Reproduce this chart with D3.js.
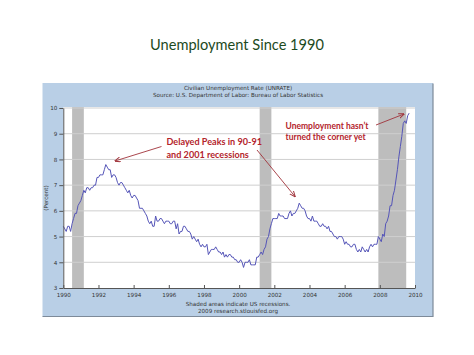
<!DOCTYPE html>
<html><head><meta charset="utf-8">
<script src="https://cdn.jsdelivr.net/npm/d3@7"></script>
<style>
html,body{margin:0;padding:0;background:#fff;}
svg{display:block;}
</style></head>
<body>
<svg id="c" width="474" height="355"></svg>
<script>
// ---- data (monthly, Jan 1990 - Sep 2009) ----
const startYear = 1990;
const unrate = [
 5.4,5.3,5.2,5.4,5.4,5.2,5.5,5.7,5.9,5.9,6.2,6.3,
 6.4,6.6,6.8,6.7,6.9,6.9,6.8,6.9,6.9,7.0,7.0,7.3,
 7.3,7.4,7.4,7.4,7.6,7.8,7.7,7.6,7.6,7.3,7.4,7.4,
 7.3,7.1,7.0,7.1,7.1,7.0,6.9,6.8,6.7,6.8,6.6,6.5,
 6.6,6.6,6.5,6.4,6.1,6.1,6.1,6.0,5.9,5.8,5.6,5.5,
 5.6,5.4,5.4,5.8,5.6,5.6,5.7,5.7,5.6,5.5,5.6,5.6,
 5.6,5.5,5.5,5.6,5.6,5.3,5.5,5.1,5.2,5.2,5.4,5.4,
 5.3,5.2,5.2,5.1,4.9,5.0,4.9,4.8,4.9,4.7,4.6,4.7,
 4.6,4.6,4.7,4.3,4.4,4.5,4.5,4.5,4.6,4.5,4.4,4.4,
 4.3,4.4,4.2,4.3,4.2,4.3,4.3,4.2,4.2,4.1,4.1,4.0,
 4.0,4.1,4.0,3.8,4.0,4.0,4.0,4.1,3.9,3.9,3.9,3.9,
 4.2,4.2,4.3,4.4,4.3,4.5,4.6,4.9,5.0,5.3,5.5,5.7,
 5.7,5.7,5.7,5.9,5.8,5.8,5.8,5.7,5.7,5.7,5.9,6.0,
 5.8,5.9,5.9,6.0,6.1,6.3,6.2,6.1,6.1,6.0,5.8,5.7,
 5.7,5.6,5.8,5.6,5.6,5.6,5.5,5.4,5.4,5.5,5.4,5.4,
 5.3,5.4,5.2,5.2,5.1,5.0,5.0,4.9,5.0,5.0,5.0,4.9,
 4.7,4.8,4.7,4.7,4.6,4.6,4.7,4.7,4.5,4.4,4.5,4.4,
 4.6,4.5,4.4,4.5,4.4,4.6,4.7,4.6,4.7,4.7,4.7,5.0,
 4.9,4.8,5.1,5.0,5.5,5.6,5.8,6.2,6.2,6.6,6.8,7.2,
 7.6,8.1,8.5,8.9,9.4,9.5,9.4,9.7,9.8
];
const recessionStart = [1990.5, 2001.167, 2007.917];
const recessionEnd   = [1991.167, 2001.833, 2009.5];
const xTicks = [1990,1992,1994,1996,1998,2000,2002,2004,2006,2008,2010];
const yTicks = [3,4,5,6,7,8,9,10];
const titleText = "Unemployment Since 1990";
const chartTitle = ["Civilian Unemployment Rate (UNRATE)", "Source: U.S. Department of Labor: Bureau of Labor Statistics"];
const footer = ["Shaded areas indicate US recessions.", "2009 research.stlouisfed.org"];
const note1 = ["Delayed Peaks in 90-91", "and 2001 recessions"];
const note2 = ["Unemployment hasn\u2019t", "turned the corner yet"];

const svg = d3.select("#c");
const L = 63.3, R = 415, T = 108, B = 288;
const x = d3.scaleLinear().domain([1990, 2010]).range([L, R]);
const y = d3.scaleLinear().domain([3, 10]).range([B, T]);

// slide title
svg.append("text").attr("x", 237).attr("y", 49.5).attr("text-anchor","middle")
  .attr("font-family","Lato, 'Open Sans', sans-serif").attr("font-size", 14.6)
  .attr("fill","#1d4a1d").text(titleText);

// panel
svg.append("rect").attr("x",42.5).attr("y",83).attr("width",390.5).attr("height",233.5)
  .attr("fill","#b9cfe6");
svg.append("path").attr("d","M433,83.5V316.5H42.5").attr("fill","none").attr("stroke","#7d8a99").attr("stroke-width",1.2);

// plot bg
svg.append("rect").attr("x",L).attr("y",T-1).attr("width",R-L).attr("height",B-T+1).attr("fill","#fff");

// recessions
svg.selectAll("rect.rec").data(recessionStart).join("rect").attr("class","rec")
  .attr("x", (d)=>x(d)).attr("width",(d,i)=>x(recessionEnd[i])-x(d))
  .attr("y",T-1).attr("height",B-T+1).attr("fill","#bdbdbd");

// grid
svg.selectAll("line.grid").data(yTicks.filter(v=>v>3)).join("line").attr("class","grid")
  .attr("x1",L).attr("x2",R).attr("y1",d=>y(d)).attr("y2",d=>y(d))
  .attr("stroke","#cfcfcf").attr("stroke-width",1);

// line
const pts = unrate.map((v,i)=>[startYear + i/12, v]);
svg.append("path").datum(pts)
  .attr("d", d3.line().x(d=>x(d[0])).y(d=>y(d[1])))
  .attr("fill","none").attr("stroke","#5555b8").attr("stroke-width",1);

// axes
const fontAxis = "'DejaVu Sans', Verdana, sans-serif";
const gx = svg.append("g").attr("transform",`translate(0,${B})`)
  .call(d3.axisBottom(x).tickValues(xTicks).tickFormat(d3.format("d")).tickSizeInner(-3).tickSizeOuter(0).tickPadding(5));
const gy = svg.append("g").attr("transform",`translate(${L},0)`)
  .call(d3.axisLeft(y).tickValues(yTicks).tickFormat(d3.format("d")).tickSizeInner(4).tickSizeOuter(0).tickPadding(2));
[gx,gy].forEach(g=>{
  g.select(".domain").attr("stroke","#555").attr("stroke-width",1);
  g.selectAll(".tick line").attr("stroke","#555");
  g.selectAll(".tick text").attr("font-family",fontAxis).attr("font-size",5.6).attr("fill","#333");
});

// chart header
svg.selectAll("text.hdr").data(chartTitle).join("text").attr("class","hdr")
  .attr("x",238).attr("y",(d,i)=>90+i*7).attr("text-anchor","middle")
  .attr("font-family",fontAxis).attr("font-size",5.6).attr("fill","#333").text(d=>d);
svg.selectAll("text.ftr").data(footer).join("text").attr("class","ftr")
  .attr("x",238).attr("y",(d,i)=>306+i*7).attr("text-anchor","middle")
  .attr("font-family",fontAxis).attr("font-size",5.6).attr("fill","#333").text(d=>d);
svg.append("text").attr("transform","translate(47.5,198) rotate(-90)").attr("text-anchor","middle")
  .attr("font-family",fontAxis).attr("font-size",5.6).attr("fill","#333").text("(Percent)");

// annotations
const red = "#b3242c";
const noteFont = "Lato, 'Open Sans', sans-serif";
svg.selectAll("text.n1").data(note1).join("text").attr("class","n1")
  .attr("x",166.5).attr("y",(d,i)=>145+i*13.3).attr("font-family",noteFont)
  .attr("font-weight","bold").attr("font-size",9.1).attr("fill",red).text(d=>d);
svg.selectAll("text.n2").data(note2).join("text").attr("class","n2")
  .attr("x",285.5).attr("y",(d,i)=>129+i*11.3).attr("font-family",noteFont)
  .attr("font-weight","bold").attr("font-size",8.5).attr("fill",red).text(d=>d);

const defs = svg.append("defs");
defs.append("marker").attr("id","ah").attr("viewBox","0 0 10 10").attr("refX",9).attr("refY",5)
  .attr("markerWidth",6).attr("markerHeight",6).attr("orient","auto-start-reverse")
  .attr("markerUnits","userSpaceOnUse")
  .append("path").attr("d","M0,1 L10,5 L0,9").attr("fill","none").attr("stroke","#a0323a").attr("stroke-width",1.6);
const arrows = [[161.5,146.5,115,161],[257,150,295,196.5],[376,125,404,114]];
svg.selectAll("line.arr").data(arrows).join("line").attr("class","arr")
  .attr("x1",d=>d[0]).attr("y1",d=>d[1]).attr("x2",d=>d[2]).attr("y2",d=>d[3])
  .attr("stroke","#a0323a").attr("stroke-width",0.9).attr("marker-end","url(#ah)");
</script>
</body></html>
